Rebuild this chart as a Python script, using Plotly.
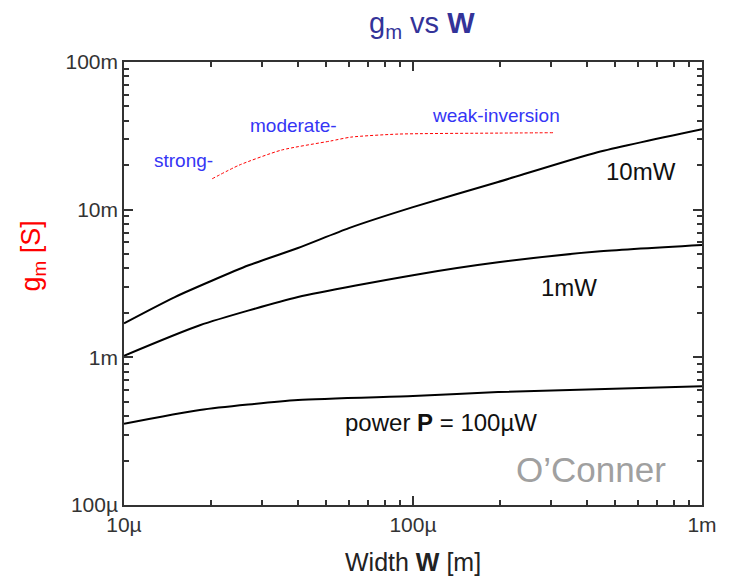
import plotly.graph_objects as go

# Data
w_10mW = [10e-6, 15e-6, 27e-6, 40e-6, 60e-6, 100e-6, 197e-6, 435e-6, 1e-3]
gm_10mW = [1.70e-3, 2.56e-3, 4.2e-3, 5.5e-3, 7.5e-3, 10.4e-3, 15.4e-3, 24.5e-3, 35.1e-3]

w_1mW = [10e-6, 18.3e-6, 40e-6, 100e-6, 197e-6, 435e-6, 1e-3]
gm_1mW = [1.025e-3, 1.65e-3, 2.56e-3, 3.6e-3, 4.4e-3, 5.2e-3, 5.76e-3]

w_100uW = [10e-6, 18.3e-6, 40e-6, 100e-6, 197e-6, 1e-3]
gm_100uW = [0.355e-3, 0.44e-3, 0.514e-3, 0.547e-3, 0.582e-3, 0.638e-3]

w_inv = [20.2e-6, 25e-6, 35e-6, 52e-6, 61e-6, 89e-6, 197e-6, 305e-6]
gm_inv = [16.2e-3, 20e-3, 25.3e-3, 29.2e-3, 31e-3, 32.5e-3, 33e-3, 33.2e-3]

x_tickvals = [1e-5, 1e-4, 1e-3]
x_ticktext = ["10µ", "100µ", "1m"]
y_tickvals = [1e-4, 1e-3, 1e-2, 1e-1]
y_ticktext = ["100µ", "1m", "10m", "100m"]
x_minor = [m * 10 ** e for e in (-5, -4) for m in range(2, 10)]
y_minor = [m * 10 ** e for e in (-4, -3, -2) for m in range(2, 10)]

FONT = "Liberation Sans, Arial, sans-serif"

fig = go.Figure()
for w, g in [(w_10mW, gm_10mW), (w_1mW, gm_1mW), (w_100uW, gm_100uW)]:
    fig.add_trace(go.Scatter(x=w, y=g, mode="lines", line=dict(color="black", width=2, shape="spline", smoothing=0.6), showlegend=False))
fig.add_trace(go.Scatter(x=w_inv, y=gm_inv, mode="lines", line=dict(color="red", width=1, dash="3px,2px", shape="spline", smoothing=0.6), showlegend=False))

# plot area on screen: x 124..705, y 62..505
def px(x):
    return (x - 124) / 581
def py(y):
    return 1 - (y - 62) / 443

annots = [
    dict(x=184, y=160, text="strong-", color="#3535f5", size=19),
    dict(x=294, y=126, text="moderate-", color="#3535f5", size=19),
    dict(x=498, y=115, text="weak-inversion", color="#3535f5", size=19),
    dict(x=644, y=171, text="10mW", color="#111111", size=24),
    dict(x=571, y=287, text="1mW", color="#111111", size=24),
    dict(x=443, y=422, text="power <b>P</b> = 100µW", color="#111111", size=24),
    dict(x=593, y=469, text="O’Conner", color="#a0a0a0", size=35),
]
for a in annots:
    fig.add_annotation(x=px(a["x"]), y=py(a["y"]), xref="paper", yref="paper",
                       text=a["text"], showarrow=False, font=dict(family=FONT, size=a["size"], color=a["color"]),
                       xanchor="center", yanchor="middle")

fig.add_annotation(x=px(33), y=py(256), xref="paper", yref="paper",
                   text="g<sub>m</sub> [S]", textangle=-90, showarrow=False,
                   font=dict(family=FONT, size=27, color="red"), xanchor="center", yanchor="middle")
fig.add_annotation(x=px(415), y=py(562), xref="paper", yref="paper",
                   text="Width <b>W</b> [m]", showarrow=False,
                   font=dict(family=FONT, size=25, color="#222222"), xanchor="center", yanchor="middle")
fig.add_annotation(x=px(424), y=py(25), xref="paper", yref="paper",
                   text="g<sub>m</sub> vs <b>W</b>", showarrow=False,
                   font=dict(family=FONT, size=29, color="#333399"), xanchor="center", yanchor="middle")

axis_common = dict(type="log", showgrid=False, zeroline=False, showline=True, linecolor="#333333", linewidth=1.5,
                   mirror="allticks", ticks="inside", ticklen=9, tickcolor="#333333", tickwidth=1.5,
                   tickfont=dict(family=FONT, size=21, color="#333333"))
fig.update_xaxes(range=[-5, -3], tickvals=x_tickvals, ticktext=x_ticktext,
                 minor=dict(ticks="inside", ticklen=5, tickwidth=1.5, tickcolor="#333333", tickvals=x_minor),
                 **axis_common)
fig.update_yaxes(range=[-4, -1], tickvals=y_tickvals, ticktext=y_ticktext,
                 minor=dict(ticks="inside", ticklen=5, tickwidth=1.5, tickcolor="#333333", tickvals=y_minor),
                 **axis_common)

# The page body has an 8px margin; size the figure so the plot area lands at x 124..705, y 62..505
fig.update_layout(width=721, height=575, margin=dict(l=116, r=24, t=54, b=78),
                  paper_bgcolor="white", plot_bgcolor="white", showlegend=False)
fig.write_html("out.html")
